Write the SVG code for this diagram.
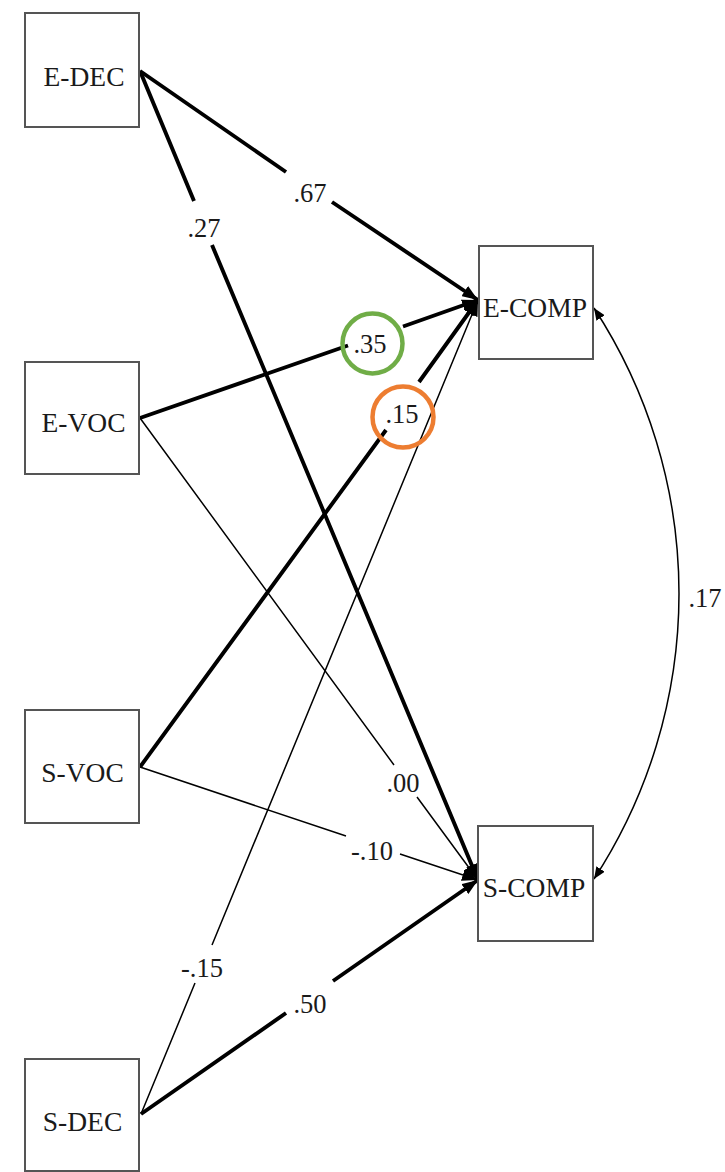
<svg xmlns="http://www.w3.org/2000/svg" width="725" height="1172" viewBox="0 0 725 1172">
<style>
  .box { fill: #ffffff; stroke: #555555; stroke-width: 2; }
  .nt { font-family: "Liberation Serif", "Times New Roman", serif; font-size: 27.5px; fill: #1a1a1a; text-anchor: middle; }
  .lt { font-family: "Liberation Serif", "Times New Roman", serif; font-size: 26.5px; fill: #1a1a1a; text-anchor: middle; }
  .thick { fill: none; stroke: #000000; stroke-width: 3.9; stroke-linecap: butt; }
  .thin { fill: none; stroke: #000000; stroke-width: 1.5; }
</style>
<defs>
  <marker id="ah" markerUnits="userSpaceOnUse" markerWidth="16" markerHeight="12" refX="16" refY="6" orient="auto">
    <path d="M0,0 L16,6 L0,12 z" fill="#000000"/>
  </marker>
  <marker id="ahs" markerUnits="userSpaceOnUse" markerWidth="12" markerHeight="10" refX="12" refY="5" orient="auto-start-reverse">
    <path d="M0,0 L12,5 L0,10 z" fill="#000000"/>
  </marker>
</defs>
<rect width="725" height="1172" fill="#ffffff"/>

<g id="connectors">
  <path id="c-edec-ecomp" class="thick" d="M140,71 L286,172 M332,202 L478,300" marker-end="url(#ah)"/>
  <path id="c-edec-scomp" class="thick" d="M140,71 L194,201 M212,245 L478,880" marker-end="url(#ah)"/>
  <path id="c-evoc-ecomp" class="thick" d="M140,418 L348,345.5 M403,326.5 L478,300" marker-end="url(#ah)"/>
  <path id="c-evoc-scomp" class="thin" d="M140,418 L394,765 M417,797 L478,880" marker-end="url(#ah)"/>
  <path id="c-svoc-ecomp" class="thick" d="M140,767 L386,430 M419,382 L478,300" marker-end="url(#ah)"/>
  <path id="c-svoc-scomp" class="thin" d="M140,767 L346,836 M400,854 L478,880" marker-end="url(#ah)"/>
  <path id="c-sdec-ecomp" class="thin" d="M141,1114 L195,983 M212,945 L478,300" marker-end="url(#ah)"/>
  <path id="c-sdec-scomp" class="thick" d="M141,1114 L286,1013 M333,981 L478,880" marker-end="url(#ah)"/>
  <path id="c-ecomp-scomp" class="thin" d="M594,308 A522,522 0 0 1 594,879" marker-start="url(#ahs)" marker-end="url(#ahs)"/>
</g>

<g id="labels">
  <text class="lt" x="310" y="202">.67</text>
  <text class="lt" x="204" y="237">.27</text>
  <text class="lt" x="370" y="353">.35</text>
  <text class="lt" x="402" y="423">.15</text>
  <text class="lt" x="403" y="792">.00</text>
  <text class="lt" x="372" y="860">-.10</text>
  <text class="lt" x="202" y="977">-.15</text>
  <text class="lt" x="310" y="1013">.50</text>
  <text class="lt" x="705" y="607">.17</text>
  <circle cx="372.5" cy="343.5" r="30" fill="none" stroke="#70AD47" stroke-width="4.5"/>
  <circle cx="403" cy="417" r="30.5" fill="none" stroke="#ED7D31" stroke-width="4.5"/>
</g>

<g id="node-edec">
  <rect class="box" x="25" y="13" width="114" height="114"/>
  <text class="nt" x="84" y="86">E-DEC</text>
</g>
<g id="node-evoc">
  <rect class="box" x="25" y="362" width="114" height="112"/>
  <text class="nt" x="83.5" y="432">E-VOC</text>
</g>
<g id="node-svoc">
  <rect class="box" x="25" y="710" width="114" height="113"/>
  <text class="nt" x="82.5" y="782">S-VOC</text>
</g>
<g id="node-sdec">
  <rect class="box" x="25" y="1059" width="114" height="112"/>
  <text class="nt" x="82.5" y="1131">S-DEC</text>
</g>
<g id="node-ecomp">
  <rect class="box" x="479" y="246" width="114" height="113"/>
  <text class="nt" x="535" y="317">E-COMP</text>
</g>
<g id="node-scomp">
  <rect class="box" x="478" y="826" width="115" height="115"/>
  <text class="nt" x="534" y="897">S-COMP</text>
</g>
</svg>
